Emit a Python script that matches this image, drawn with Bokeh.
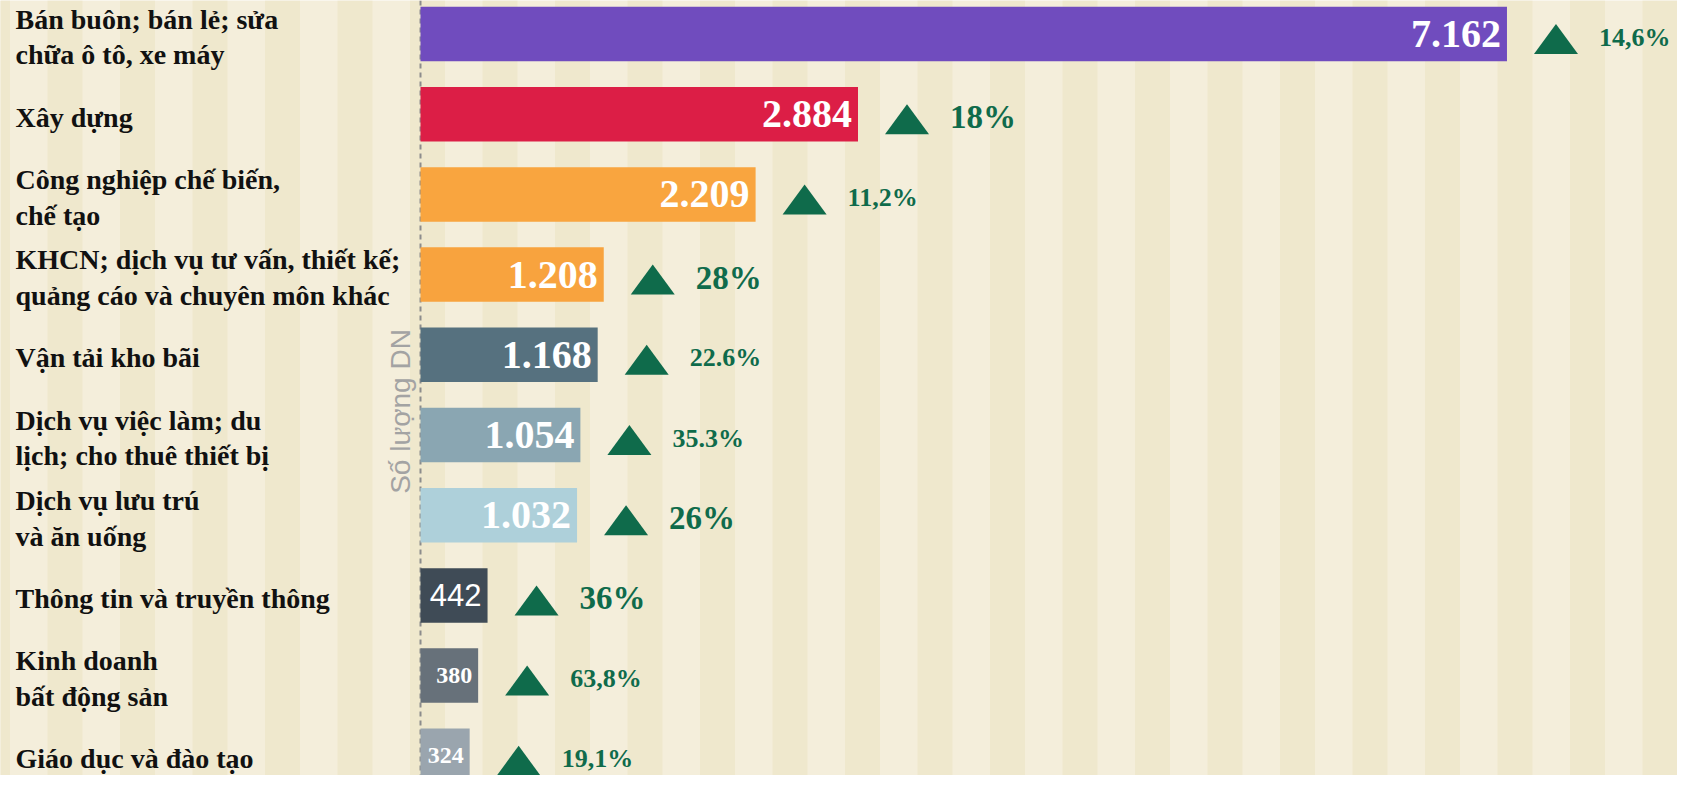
import numpy as np
from bokeh.plotting import figure
from bokeh.models import ColumnDataSource, Range1d, Span
from bokeh.core.properties import value
from bokeh.embed import file_html
from bokeh.resources import INLINE

# ---------------- data ----------------
categories = [
    "Bán buôn; bán lẻ; sửa\nchữa ô tô, xe máy",
    "Xây dựng",
    "Công nghiệp chế biến,\nchế tạo",
    "KHCN; dịch vụ tư vấn, thiết kế;\nquảng cáo và chuyên môn khác",
    "Vận tải kho bãi",
    "Dịch vụ việc làm; du\nlịch; cho thuê thiết bị",
    "Dịch vụ lưu trú\nvà ăn uống",
    "Thông tin và truyền thông",
    "Kinh doanh\nbất động sản",
    "Giáo dục và đào tạo",
]
counts = [7162, 2884, 2209, 1208, 1168, 1054, 1032, 442, 380, 324]
growth_labels = ["14,6%", "18%", "11,2%", "28%", "22.6%", "35.3%", "26%", "36%", "63,8%", "19,1%"]
axis_title = "Số lượng DN"

# ---------------- styles ----------------
bar_colors = ["#704cbe", "#dc1e46", "#f9a53f", "#f8a33e", "#56717f",
              "#8aa6b2", "#aed0da", "#3f4b56", "#67717a", "#9aa5ae"]
GREEN = "#0f6b4b"
BG = "#f4eedb"
STRIPE = "#efe8cd"

W, H = 1677, 775
X0_PX = 420.0      # screen x of value 0
KX = 0.1517        # px per unit (x)
Y0_PX = 33.5       # screen y of first category
KY = 80.2          # px per category (y)

n = len(categories)
ys = list(range(n))

def vfont(v):
    if v >= 1000:
        return "Liberation Serif", "bold", "40px"
    if v >= 400:
        return "Liberation Sans", "normal", "31px"
    return "Liberation Serif", "bold", "24px"

vf = [vfont(v) for v in counts]
tri_off = 49.0 / KX
txt_off = 43.0 / KX
tri_cx = [c + tri_off for c in counts]
tri_cy = [y + 5.0 / KY for y in ys]
half_w = 22.0 / KX
half_h = 15.0 / KY

x_start = -X0_PX / KX
x_end = (W - X0_PX) / KX
y_top = -Y0_PX / KY
y_bot = (H - Y0_PX) / KY

src = ColumnDataSource(dict(
    y=ys,
    count=counts,
    cat=categories,
    catx=[x_start + 15 / KX] * n,
    color=bar_colors,
    vlabel=[f"{v:,}".replace(",", ".") for v in counts],
    vfont=[f[0] for f in vf],
    vstyle=[f[1] for f in vf],
    vsize=[f[2] for f in vf],
    gx=[c + tri_off + txt_off for c in counts],
    glabel=growth_labels,
    gsize=["33px" if ("," not in g and "." not in g) else "26px" for g in growth_labels],
))

tri_src = ColumnDataSource(dict(
    xs=[[cx - half_w, cx + half_w, cx] for cx in tri_cx],
    ys=[[cy + half_h, cy + half_h, cy - half_h] for cy in tri_cy],
))

p = figure(width=W, height=H, output_backend="svg", toolbar_location=None,
           x_range=Range1d(x_start, x_end), y_range=Range1d(y_bot, y_top),
           x_axis_type=None, y_axis_type=None, min_border=0,
           outline_line_color=None, background_fill_color=BG, border_fill_color=BG)

# background stripes (decoration)
stripe_px = np.arange(1062.0 - 72.5 * 16, W, 72.5)
p.quad(left=(stripe_px - X0_PX) / KX, right=(stripe_px + 35 - X0_PX) / KX,
       top=y_top, bottom=y_bot, fill_color=STRIPE, line_color=None, level="image")

p.add_layout(Span(location=0, dimension="height", line_color="#8c8c8c",
                  line_dash="5 4", line_width=2, level="underlay"))

p.hbar(y="y", left=0, right="count", height=0.68, fill_color="color",
       line_color=None, source=src)

p.text(x="count", y="y", text="vlabel", x_offset=-6, text_align="right",
       text_baseline="middle", text_color="white", text_font="vfont",
       text_font_style="vstyle", text_font_size="vsize", source=src)

p.patches(xs="xs", ys="ys", fill_color=GREEN, line_color=None, source=tri_src)

p.text(x="gx", y="y", text="glabel", y_offset=3, text_align="left",
       text_baseline="middle", text_color=GREEN, text_font=value("Liberation Serif"),
       text_font_style="bold", text_font_size="gsize", source=src)

# rotated axis title
p.text(x=[(400 - X0_PX) / KX], y=[(411 - Y0_PX) / KY], text=[axis_title],
       angle=np.pi / 2, text_align="center", text_baseline="middle",
       text_color="#a3a3a3", text_font=value("Liberation Sans"),
       text_font_size="28px")

# category labels
p.text(x="catx", y="y", text="cat", y_offset=3, text_align="left",
       text_baseline="middle", text_color="#111111", text_font=value("Liberation Serif"),
       text_font_style="bold", text_font_size="28px", text_line_height=1.15, source=src)

open("out.html", "w").write(file_html(p, INLINE))
